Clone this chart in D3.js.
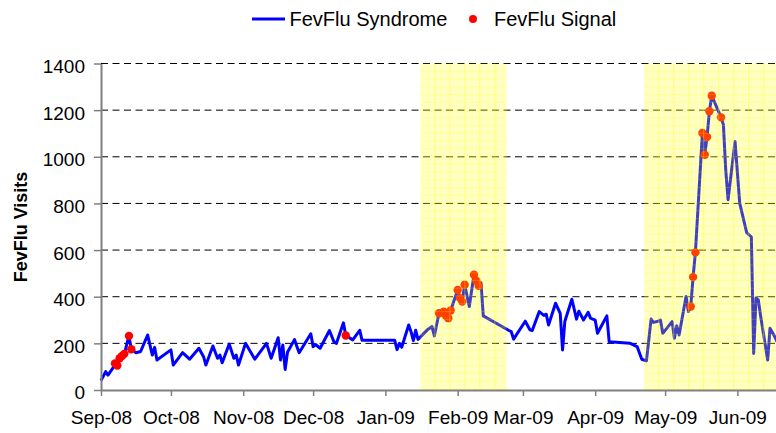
<!DOCTYPE html>
<html>
<head>
<meta charset="utf-8">
<script src="https://cdn.jsdelivr.net/npm/d3@7"></script>
<style>
  body { margin: 0; background: #fff; }
  svg { display: block; font-family: "Liberation Sans", Arial, sans-serif; }
</style>
</head>
<body>
<svg id="chart" width="776" height="433"></svg>
<script>
// days are counted from 1 Sep 2008
const startDate = Date.UTC(2008, 8, 1);

const syndromeDay = [0, 2, 3, 5, 6, 7, 8, 9, 10, 12, 13, 15, 17, 20, 22, 23, 24, 30, 31, 35, 38, 42, 44, 45, 48, 50, 51, 52, 55, 57, 58, 59,
  62, 66, 71, 73, 76, 77, 78, 79, 80, 83, 85, 90, 91, 92, 94, 98, 100, 101, 104, 105, 108, 111, 112, 126, 127, 128, 129,
  132, 133, 134, 135, 136, 140, 142, 143, 145, 147, 148, 149, 150, 153, 154, 155, 156, 158, 160, 161, 162, 163, 164,
  175, 176, 177, 182, 184, 185, 188, 190, 191, 192, 195, 197, 198, 199, 202, 204, 205, 207, 209, 210, 212, 213, 217, 218,
  227, 230, 232, 234, 236, 237, 239, 240, 241, 245, 246, 247, 248, 251, 252, 253, 254, 255, 258, 259, 260, 261, 262,
  266, 267, 268, 269, 272, 274, 277, 279, 280, 281, 282, 283, 286, 287, 289, 290];
const syndromeValue = [40, 79, 64, 93, 114, 105, 136, 146, 155, 232, 175, 160, 165, 236, 150, 183, 129, 172, 107, 160, 132, 179, 143, 107, 189, 136, 150, 117, 197, 136, 150, 107,
  200, 132, 200, 136, 224, 129, 193, 88, 162, 216, 160, 241, 186, 195, 179, 255, 205, 200, 288, 234, 215, 256, 213, 213, 173, 200, 183,
  279, 250, 212, 256, 217, 258, 272, 232, 329, 336, 318, 308, 341, 429, 394, 379, 451, 358, 494, 469, 447, 460, 318,
  255, 250, 218, 295, 258, 255, 336, 320, 325, 279, 372, 329, 172, 295, 389, 304, 338, 300, 333, 308, 300, 243, 318, 207,
  200, 186, 132, 125, 304, 290, 295, 300, 243, 293, 222, 275, 236, 401, 336, 358, 484, 590, 1102, 1009, 1085, 1195, 1262,
  1169, 1138, 945, 816, 1066, 801, 675, 656, 157, 394, 386, 315, 129, 265, 229, 207];

const signalDay = [6, 7, 8, 9, 10, 12, 13, 105, 145, 147, 148, 149, 150, 153, 154, 155, 156, 160, 161, 162,
  253, 254, 255, 258, 259, 260, 261, 262, 266];
const signalValue = [114, 105, 136, 146, 155, 232, 175, 234, 329, 336, 318, 308, 341, 429, 394, 379, 451, 494, 469, 447,
  358, 484, 590, 1102, 1009, 1085, 1195, 1262, 1169];

// signal periods (shaded), start and end day
const shadeStart = [137, 233];
const shadeEnd = [174, 290];

const monthTicks = [0, 30, 61, 91, 122, 153, 181, 212, 242, 273];
const yTicks = [0, 200, 400, 600, 800, 1000, 1200, 1400];

const dayToDate = d => new Date(startDate + d * 864e5);

const svg = d3.select('#chart');
const plot = {left: 101, right: 777, top: 63.5, bottom: 390};

const x = d3.scaleUtc()
  .domain([dayToDate(0), dayToDate(290)])
  .range([plot.left, plot.right]);
const y = d3.scaleLinear()
  .domain([0, 1400])
  .range([plot.bottom, plot.top]);

// dashed grid
svg.append('g')
  .selectAll('line')
  .data(yTicks.filter(d => d > 0))
  .enter().append('line')
  .attr('x1', plot.left)
  .attr('x2', 776)
  .attr('y1', d => y(d))
  .attr('y2', d => y(d))
  .attr('stroke', '#000')
  .attr('stroke-width', 1)
  .attr('stroke-dasharray', '7,4.5');

// syndrome line
const line = d3.line()
  .x((d, i) => x(dayToDate(syndromeDay[i])))
  .y(d => y(d));

svg.append('path')
  .datum(syndromeValue)
  .attr('fill', 'none')
  .attr('stroke', '#0000ff')
  .attr('stroke-width', 3)
  .attr('stroke-linejoin', 'round')
  .attr('d', line);

svg.append('g')
  .selectAll('circle')
  .data(signalValue)
  .enter().append('circle')
  .attr('cx', (d, i) => x(dayToDate(signalDay[i])))
  .attr('cy', d => y(d))
  .attr('r', 4.2)
  .attr('fill', '#ff0000');

// yellow shading drawn over the data
const shade = svg.append('g');
shadeStart.forEach(function (s, k) {
  const x0 = x(dayToDate(s)), x1 = Math.min(x(dayToDate(shadeEnd[k])), 776);
  const g = shade.append('g');
  g.append('rect')
    .attr('x', x0)
    .attr('y', plot.top)
    .attr('width', x1 - x0)
    .attr('height', plot.bottom - plot.top)
    .attr('fill', '#ffff00')
    .attr('fill-opacity', 0.25);
  g.selectAll('.v')
    .data(d3.range(x0 + 14.5, x1, 15))
    .enter().append('line')
    .attr('x1', d => d).attr('x2', d => d)
    .attr('y1', plot.top).attr('y2', plot.bottom)
    .attr('stroke', '#ffff00')
    .attr('stroke-opacity', 0.35);
  g.selectAll('.h')
    .data(d3.range(plot.top + 7.75, plot.bottom, 7.75))
    .enter().append('line')
    .attr('x1', x0).attr('x2', x1)
    .attr('y1', d => d).attr('y2', d => d)
    .attr('stroke', '#ffff00')
    .attr('stroke-opacity', 0.2);
});

// axes
const yAxis = svg.append('g')
  .attr('transform', 'translate(' + plot.left + ',0)')
  .call(d3.axisLeft(y).tickValues(yTicks).tickFormat(d3.format('d'))
    .tickSize(7).tickSizeOuter(0).tickPadding(9));

const xAxis = svg.append('g')
  .attr('transform', 'translate(0,' + plot.bottom + ')')
  .call(d3.axisBottom(x)
    .tickValues(monthTicks.map(dayToDate))
    .tickFormat(d3.utcFormat('%b-%y'))
    .tickSize(6).tickSizeOuter(0).tickPadding(15));

[yAxis, xAxis].forEach(function (a) {
  a.select('.domain').attr('stroke', '#808080').attr('stroke-width', 2);
  a.selectAll('.tick line').attr('stroke', '#808080').attr('stroke-width', 1.5);
  a.selectAll('text').attr('font-size', 19).attr('fill', '#000').attr('font-family', null);
});
yAxis.selectAll('text').attr('dy', '0.47em');

svg.append('text')
  .attr('transform', 'translate(27,227) rotate(-90)')
  .attr('text-anchor', 'middle')
  .attr('font-size', 18)
  .attr('font-weight', 'bold')
  .text('FevFlu Visits');

// legend
const legend = svg.append('g').attr('font-size', 20);
legend.append('line')
  .attr('x1', 252).attr('x2', 285)
  .attr('y1', 19).attr('y2', 19)
  .attr('stroke', '#0000ff').attr('stroke-width', 3);
legend.append('text').attr('x', 289.5).attr('y', 25.5).text('FevFlu Syndrome');
legend.append('circle').attr('cx', 473).attr('cy', 19).attr('r', 4).attr('fill', '#ff0000');
legend.append('text').attr('x', 494).attr('y', 25.5).text('FevFlu Signal');
</script>
</body>
</html>
